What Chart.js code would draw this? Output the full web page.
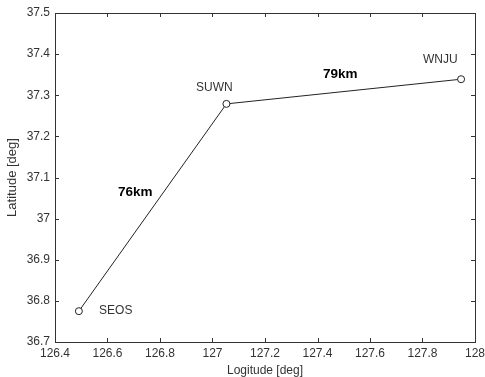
<!DOCTYPE html>
<html>
<head>
<meta charset="utf-8">
<script src="https://cdn.jsdelivr.net/npm/chart.js@4"></script>
<style>
  html, body { margin: 0; padding: 0; background: #fff; }
  #wrap { width: 485px; height: 377px; }
</style>
</head>
<body>
<div id="wrap"><canvas id="chart" width="485" height="377"></canvas></div>
<script>
// station positions (lon, lat)
const stations = ['SEOS', 'SUWN', 'WNJU'];
const lonVals = [126.491, 127.053, 127.947];
const latVals = [36.775, 37.279, 37.339];

// text labels placed in data coords (left edge, middle)
const labelText = ['SEOS', 'SUWN', 'WNJU', '76km', '79km'];
const labelLon = [126.568, 126.937, 127.802, 126.640, 127.421];
const labelLat = [36.775, 37.318, 37.386, 37.064, 37.352];
const labelBold = [false, false, false, true, true];

// axis ticks
const xTicks = [126.4, 126.6, 126.8, 127, 127.2, 127.4, 127.6, 127.8, 128];
const yTicks = [36.7, 36.8, 36.9, 37, 37.1, 37.2, 37.3, 37.4, 37.5];

const FONT = 'Liberation Sans, Arial, sans-serif';

// box + inward ticks + text labels, matlab style
const boxPlugin = {
    id: 'boxPlugin',
    afterDraw(chart) {
        const ctx = chart.ctx;
        const a = chart.chartArea;
        const xs = chart.scales.x, ys = chart.scales.y;
        ctx.save();
        ctx.strokeStyle = '#333';
        ctx.lineWidth = 1;
        ctx.strokeRect(Math.round(a.left) + 0.5, Math.round(a.top) + 0.5,
            Math.round(a.right - a.left), Math.round(a.bottom - a.top));
        ctx.beginPath();
        xTicks.forEach(v => {
            const px = Math.round(xs.getPixelForValue(v)) + 0.5;
            ctx.moveTo(px, a.bottom); ctx.lineTo(px, a.bottom - 4);
            ctx.moveTo(px, a.top); ctx.lineTo(px, a.top + 4);
        });
        yTicks.forEach(v => {
            const py = Math.round(ys.getPixelForValue(v)) + 0.5;
            ctx.moveTo(a.left, py); ctx.lineTo(a.left + 4, py);
            ctx.moveTo(a.right, py); ctx.lineTo(a.right - 4, py);
        });
        ctx.stroke();

        ctx.textBaseline = 'middle';
        ctx.textAlign = 'left';
        labelText.forEach((t, i) => {
            ctx.font = labelBold[i] ? 'bold 13.5px ' + FONT : '12px ' + FONT;
            ctx.fillStyle = labelBold[i] ? '#000' : '#333';
            ctx.fillText(t, xs.getPixelForValue(labelLon[i]), ys.getPixelForValue(labelLat[i]));
        });
        ctx.restore();
    }
};

const fmt = v => String(Math.round(v * 10) / 10);

new Chart(document.getElementById('chart'), {
    type: 'scatter',
    data: {
        datasets: [{
            data: lonVals.map((x, i) => ({ x: x, y: latVals[i] })),
            showLine: true,
            borderColor: '#222',
            borderWidth: 1,
            pointRadius: 3.5,
            pointBorderWidth: 1,
            pointBackgroundColor: '#fff',
            pointBorderColor: '#222'
        }]
    },
    options: {
        responsive: false,
        animation: false,
        layout: { padding: { top: 13, right: 10, left: 0, bottom: 0 } },
        plugins: { legend: { display: false }, tooltip: { enabled: false } },
        scales: {
            x: {
                type: 'linear',
                min: 126.4, max: 128,
                afterBuildTicks: s => { s.ticks = xTicks.map(v => ({ value: v })); },
                afterFit: s => { s.height = 35; s.paddingLeft = 0; s.paddingRight = 0; },
                grid: { display: false, drawTicks: false, tickLength: 0 },
                border: { display: false },
                ticks: { font: { family: FONT, size: 12 }, color: '#333', padding: 4, maxRotation: 0, callback: fmt },
                title: { display: true, text: 'Logitude [deg]', font: { family: FONT, size: 12, lineHeight: 1 }, color: '#333', padding: { top: 0, bottom: 0 } }
            },
            y: {
                type: 'linear',
                min: 36.7, max: 37.5,
                afterBuildTicks: s => { s.ticks = yTicks.map(v => ({ value: v })); },
                afterFit: s => { s.width = 55; s.paddingTop = 0; s.paddingBottom = 0; },
                grid: { display: false, drawTicks: false, tickLength: 0 },
                border: { display: false },
                ticks: { font: { family: FONT, size: 12 }, color: '#333', padding: 5, callback: fmt },
                title: { display: true, text: 'Latitude [deg]', font: { family: FONT, size: 13, lineHeight: 1 }, color: '#333', padding: { top: 6, bottom: 0 } }
            }
        }
    },
    plugins: [boxPlugin]
});
</script>
</body>
</html>
